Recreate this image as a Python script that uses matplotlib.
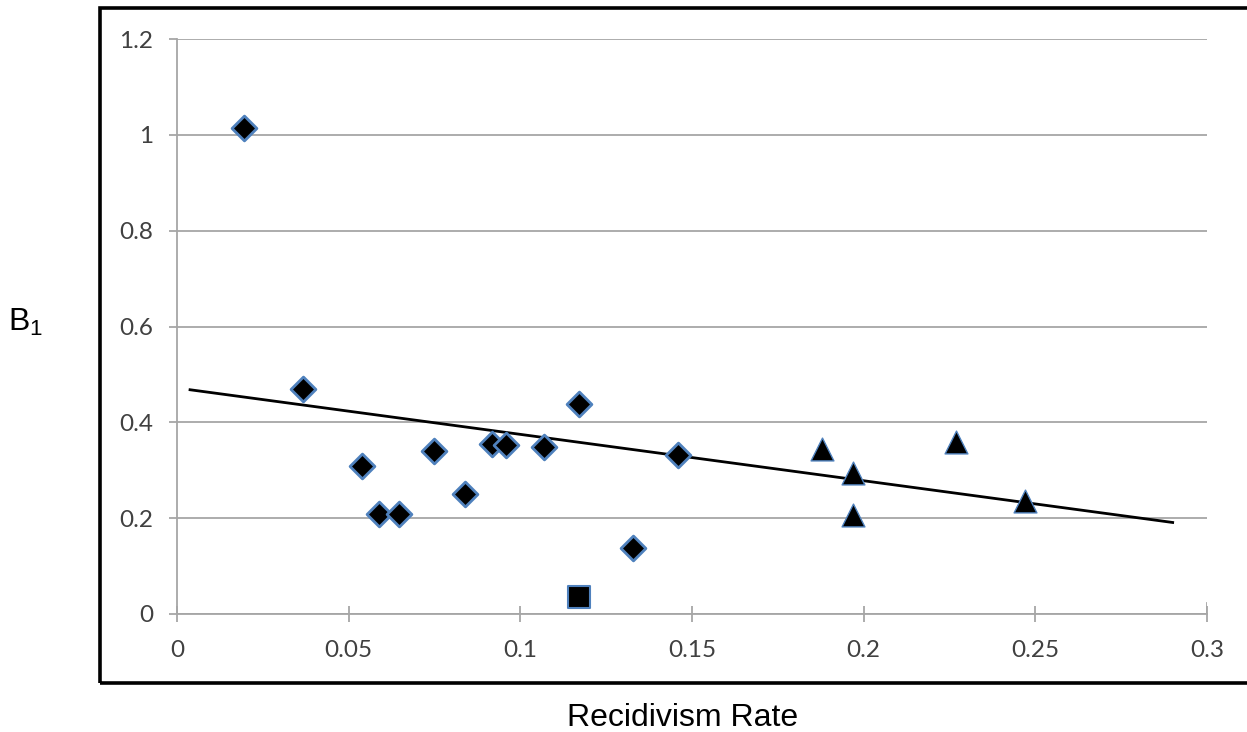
import matplotlib
matplotlib.use("Agg")
import matplotlib.pyplot as plt
from matplotlib.patches import Rectangle

# diamonds
dia_x = [0.0195, 0.0367, 0.0539, 0.0588, 0.0647, 0.0749, 0.0839, 0.0918, 0.0958, 0.1069, 0.1171, 0.1328, 0.1459]
dia_y = [1.015, 0.470, 0.309, 0.209, 0.209, 0.340, 0.251, 0.355, 0.353, 0.349, 0.438, 0.138, 0.332]
# square
sq_x = [0.1171]
sq_y = [0.035]
# triangles
tri_x = [0.188, 0.197, 0.197, 0.227, 0.247]
tri_y = [0.344, 0.294, 0.207, 0.359, 0.236]
# linear trend line, ends
trend_x = [0.0038, 0.290]
trend_y = [0.468, 0.191]

xticks = [0, 0.05, 0.1, 0.15, 0.2, 0.25, 0.3]
xlabels = ['0', '0.05', '0.1', '0.15', '0.2', '0.25', '0.3']
yticks = [0, 0.2, 0.4, 0.6, 0.8, 1.0, 1.2]
ylabels = ['0', '0.2', '0.4', '0.6', '0.8', '1', '1.2']

edge = '#4f81bd'
grid = '#a6a6a6'

fig = plt.figure(figsize=(12.47, 7.32), dpi=100)
ax = fig.add_axes([177/1247, 1 - 614/732, (1207 - 177)/1247, (614 - 39)/732])

ax.plot(trend_x, trend_y, color='black', lw=2.0, zorder=2)
ax.scatter(dia_x, dia_y, marker='D', s=160, c='black', edgecolors=edge, linewidths=2.0, zorder=3)
ax.scatter(sq_x, sq_y, marker='s', s=270, c='black', edgecolors=edge, linewidths=1.5, zorder=3)
ax.scatter(tri_x, tri_y, marker='^', s=270, c='black', edgecolors=edge, linewidths=1.0, zorder=3)

ax.set_xlim(0, 0.3)
ax.set_ylim(0, 1.2)
ax.set_xticks(xticks)
ax.set_xticklabels(xlabels)
ax.set_yticks(yticks)
ax.set_yticklabels(ylabels)
ax.yaxis.grid(True, color=grid, lw=1.3)
ax.set_axisbelow(True)

for s in ['top', 'right']:
    ax.spines[s].set_visible(False)
for s in ['left', 'bottom']:
    ax.spines[s].set_color(grid)
    ax.spines[s].set_linewidth(1.3)

ax.tick_params(axis='x', direction='inout', length=12, width=1.3, color=grid, pad=13)
ax.tick_params(axis='y', direction='out', length=6, width=1.3, color=grid, pad=11)
for lab in ax.get_xticklabels() + ax.get_yticklabels():
    lab.set_fontfamily('Lato')
    lab.set_fontsize(17.5)
    lab.set_color('#404040')

# right-end tick of the plot area
ax.axvline(0.3, ymin=0, ymax=0.02, color=grid, lw=1.3)

# outer frame
fig.patches.append(Rectangle((100/1247, 1 - 683/732), 1.05, (683 - 8)/732,
                             transform=fig.transFigure, fill=False,
                             edgecolor='black', lw=2.6))

fig.text(683/1247, 1 - 718/732, 'Recidivism Rate', ha='center', va='center',
         fontsize=23, family='Liberation Sans')
fig.text(26/1247, 1 - 322/732, r'B$_{\mathregular{1}}$', ha='center', va='center',
         fontsize=23, family='Liberation Sans')

fig.savefig('out.png', dpi=100)
